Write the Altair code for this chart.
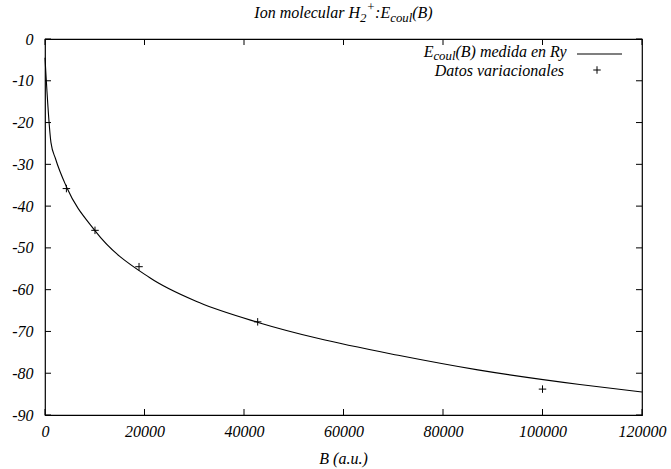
import altair as alt
import pandas as pd

# ---- data ----
b_curve = [0, 1200, 2100, 4400, 10000, 21000, 31000, 43000, 55000, 71000, 87000, 107500, 120000]
e_curve = [-4.5, -24.8, -28.6, -35.6, -45.8, -57.1, -63.1, -67.9, -71.7, -75.7, -79.2, -82.7, -84.5]
b_pts = [4300, 10050, 18900, 42750, 100000]
e_pts = [-35.8, -45.8, -54.5, -67.7, -83.8]
x_ticks = [0, 20000, 40000, 60000, 80000, 100000, 120000]
y_ticks = [0, -10, -20, -30, -40, -50, -60, -70, -80, -90]

FONT = "'Liberation Serif', 'Times New Roman', 'DejaVu Serif', serif"
FS = 16
SUB = FS * 0.8
W, H = 597, 376

curve = pd.DataFrame({"B": b_curve, "E": e_curve})
pts = pd.DataFrame({"B": b_pts, "E": e_pts})
xt = pd.DataFrame({"B": x_ticks})
yt = pd.DataFrame({"E": y_ticks})
one = pd.DataFrame({"k": [0]})

xs = alt.Scale(domain=[0, 120000], nice=False, zero=False)
ys = alt.Scale(domain=[-90, 0], nice=False, zero=False)

common_axis = dict(ticks=False, domain=False, grid=False, title=None,
                   labelFont=FONT, labelFontStyle="italic", labelFontSize=FS,
                   labelColor="black", labelOverlap=False,
                   labelExpr="toString(datum.value)")
x_axis = alt.Axis(values=x_ticks, labelFlush=False, labelPadding=8, **common_axis)
y_axis = alt.Axis(values=y_ticks, labelPadding=12, **common_axis)

line = alt.Chart(curve).mark_line(color="black", strokeWidth=1.1, interpolate="monotone").encode(
    x=alt.X("B:Q", scale=xs, axis=x_axis),
    y=alt.Y("E:Q", scale=ys, axis=y_axis),
)

PLUS = "M-1,0L1,0M0,-1L0,1"
points = alt.Chart(pts).mark_point(shape=PLUS, size=56, color="black", strokeWidth=1, opacity=1).encode(
    x=alt.X("B:Q", scale=xs), y=alt.Y("E:Q", scale=ys)
)

TL = 6
xt_bot = alt.Chart(xt).mark_rule(color="black").encode(x=alt.X("B:Q", scale=xs), y=alt.value(H - TL), y2=alt.value(H))
xt_top = alt.Chart(xt).mark_rule(color="black").encode(x=alt.X("B:Q", scale=xs), y=alt.value(0), y2=alt.value(TL))
yt_l = alt.Chart(yt).mark_rule(color="black").encode(y=alt.Y("E:Q", scale=ys), x=alt.value(0), x2=alt.value(TL))
yt_r = alt.Chart(yt).mark_rule(color="black").encode(y=alt.Y("E:Q", scale=ys), x=alt.value(W - TL), x2=alt.value(W))

# approximate Times-Italic advance widths (em)
MET = {" ": .25, "I": .333, "o": .5, "n": .5, "m": .722, "l": .278, "e": .444, "c": .444,
       "u": .5, "a": .5, "r": .389, "H": .722, "2": .5, "+": .675, ":": .333, "E": .611,
       "(": .333, "B": .611, ")": .333, "d": .5, "i": .278, "R": .611, "y": .444,
       "D": .722, "t": .278, "s": .389, "v": .444, ".": .25}


def tw(s, size):
    return sum(MET.get(ch, .5) for ch in s) * size


def txt(s, x, y, size, align="left"):
    return alt.Chart(one).mark_text(text=s, align=align, baseline="alphabetic", font=FONT,
                                    fontStyle="italic", fontSize=size, color="black").encode(
        x=alt.value(x), y=alt.value(y))


def rich(pieces, x0, y0):
    layers = []
    x = x0
    for s, size, dy in pieces:
        layers.append(txt(s, x, y0 + dy, size))
        x += tw(s, size)
    return layers


def rich_width(pieces):
    return sum(tw(s, size) for s, size, _ in pieces)


title_pieces = [("Ion molecular H", FS, 0), ("2", SUB, 4), ("+", SUB, -7),
                (":E", FS, 0), ("coul", SUB, 4), ("(B)", FS, 0)]
tx0 = W / 2 - rich_width(title_pieces) / 2
title_layers = rich(title_pieces, tx0, -21)

leg_right = 522
leg1 = [("E", FS, 0), ("coul", SUB, 3), ("(B) medida en Ry", FS, 0)]
leg1_layers = rich(leg1, leg_right - rich_width(leg1), 18)
leg2_layer = txt("Datos variacionales", leg_right - 3, 37, FS, align="right")

leg_line = alt.Chart(one).mark_rule(color="black", strokeWidth=1.1).encode(
    x=alt.value(532), x2=alt.value(577), y=alt.value(15))
leg_pt = alt.Chart(one).mark_point(shape=PLUS, size=56, color="black", strokeWidth=1, opacity=1).encode(
    x=alt.value(552), y=alt.value(31))

xtitle = txt("B (a.u.)", W / 2, 425, FS, align="center")

chart = alt.layer(
    line, points, xt_bot, xt_top, yt_l, yt_r,
    *title_layers, *leg1_layers, leg2_layer, leg_line, leg_pt, xtitle
).properties(
    width=W, height=H,
    autosize=alt.AutoSizeParams(type="none"),
    padding={"left": 45, "top": 39, "right": 29, "bottom": 54},
    background="white",
).configure_view(stroke="black", strokeWidth=1.2)

chart.save("out.html", embed_options={"renderer": "svg", "actions": False})
